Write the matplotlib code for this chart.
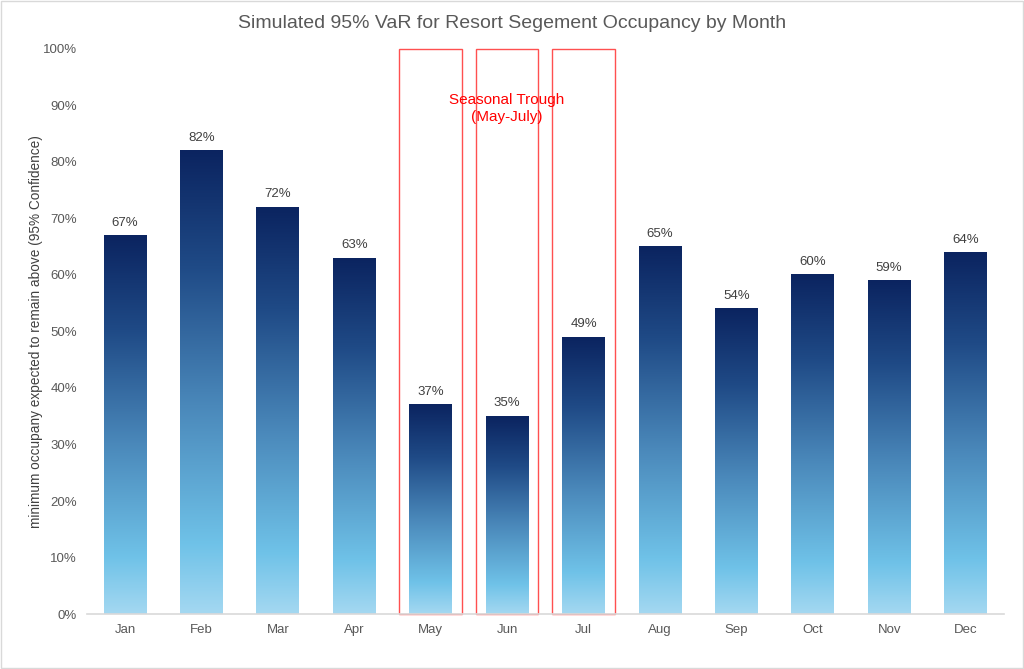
import numpy as np
import matplotlib
matplotlib.use("Agg")
import matplotlib.pyplot as plt
from matplotlib.colors import LinearSegmentedColormap
from matplotlib.patches import Rectangle

months = ["Jan", "Feb", "Mar", "Apr", "May", "Jun", "Jul", "Aug", "Sep", "Oct", "Nov", "Dec"]
var_values = [0.67, 0.82, 0.72, 0.63, 0.37, 0.35, 0.49, 0.65, 0.54, 0.60, 0.59, 0.64]
trough_months = ["May", "Jun", "Jul"]
y_ticks = [0.0, 0.1, 0.2, 0.3, 0.4, 0.5, 0.6, 0.7, 0.8, 0.9, 1.0]

plt.rcParams['font.family'] = ['Liberation Sans', 'DejaVu Sans']

fig = plt.figure(figsize=(10.24, 6.69), dpi=100)
ax = fig.add_axes([0.0848, 0.0822, 0.8955, 0.8446])

cmap = LinearSegmentedColormap.from_list(
    "grad",
    [(0.0, "#a4d8f1"), (0.15, "#6fc2e8"), (0.45, "#4a88ba"), (0.75, "#1f4a86"), (1.0, "#0b2460")])
grad = np.linspace(0, 1, 256).reshape(-1, 1)

x = np.arange(len(months))
width = 0.56
for xi, v in zip(x, var_values):
    ax.imshow(grad, cmap=cmap, origin="lower", aspect="auto",
              extent=(xi - width / 2, xi + width / 2, 0, v), interpolation="bilinear", zorder=2)
    ax.text(xi, v + 0.012, f"{v*100:.0f}%", ha="center", va="bottom", fontsize=9.5, color="#404040")

for m in trough_months:
    i = months.index(m)
    ax.add_patch(Rectangle((i - 0.41, 0), 0.82, 1.0, fill=False, edgecolor="#ff5050", lw=1.0, zorder=2.4, clip_on=False))
ax.text(5.0, 0.895, "Seasonal Trough\n(May-July)", ha="center", va="center", color="#ff0000",
        fontsize=11, linespacing=1.3, zorder=4)

ax.set_xlim(-0.5, len(months) - 0.5)
ax.set_ylim(0, 1.0)
ax.set_xticks(x)
ax.set_xticklabels(months)
ax.set_yticks(y_ticks)
ax.set_yticklabels([f"{t*100:.0f}%" for t in y_ticks])
ax.tick_params(axis="both", length=0, labelsize=9.5, labelcolor="#595959")
ax.tick_params(axis="x", pad=7)
ax.tick_params(axis="y", pad=7)
for s in ["top", "right", "left"]:
    ax.spines[s].set_visible(False)
ax.spines["bottom"].set_color("#d9d9d9")
ax.spines["bottom"].set_linewidth(1.2)
ax.spines["bottom"].set_zorder(5)
ax.set_ylabel("minimum occupany expected to remain above (95% Confidence)", fontsize=9.8, color="#404040")
ax.yaxis.set_label_coords(-0.0555, 0.5)
ax.yaxis.label.set_va("center")
fig.suptitle("Simulated 95% VaR for Resort Segement Occupancy by Month", y=0.978, fontsize=14, color="#595959")

fig.patches.append(Rectangle((0.001, 0.001), 0.998, 0.998, transform=fig.transFigure, fill=False, edgecolor="#d9d9d9", lw=1))

fig.savefig("out.png", dpi=100)
